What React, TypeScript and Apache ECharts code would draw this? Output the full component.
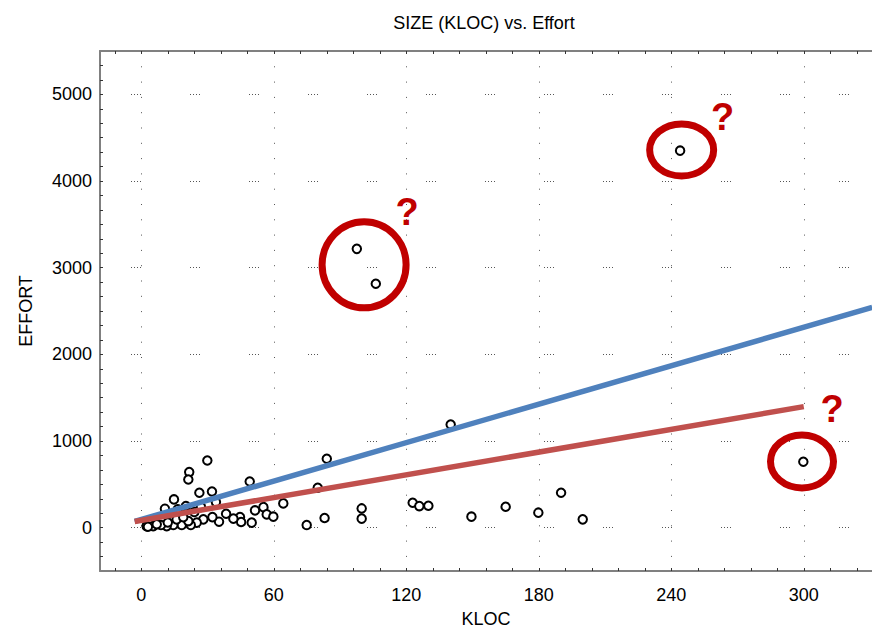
import React, { useEffect, useRef } from "react";
import * as echarts from "echarts";

const kloc = [
  97.6, 106.2, 244, 299.8,
  64.3, 74.9, 79.9, 84, 83, 99.8, 99.8, 122.9, 125.9, 130, 140.1, 149.5, 165, 179.8, 190.1, 199.9,
  29.9, 21.7, 21.3, 14.8, 26.3, 32, 49.1, 33.8, 10.7, 16.5, 20.2, 38.4, 51.5, 55.3, 56.8, 59.8,
  44.7, 45.2, 50, 35.2, 32.2, 41.7, 28.1, 25.1, 22.4, 18.3, 14.5, 11.5, 8.9, 5.4, 2.4, 21.3, 16,
  12, 7, 3, 19, 24, 27,
];
const effort = [
  3217, 2815, 4350, 760,
  280, 30, 461, 795, 111, 222, 104, 288, 249, 253, 1190, 127, 242, 173, 403, 96,
  775, 641, 556, 326, 403, 418, 533, 295, 219, 211, 249, 161, 199, 237, 153, 127,
  122, 65, 58, 69, 122, 104, 96, 58, 30, 30, 30, 18, 30, 18, 18, 76, 96,
  60, 40, 10, 120, 180, 240,
];

const blueFit = [[-3, 72], [331, 2542]];
const redFit = [[-3, 72], [300, 1397]];

const xLabels = [0, 60, 120, 180, 240, 300];
const yLabels = [0, 1000, 2000, 3000, 4000, 5000];
const xMinor = [-12, 0, 12, 24, 36, 48, 60, 72, 84, 96, 108, 120, 132, 144, 156, 168, 180, 192, 204, 216, 228, 240, 252, 264, 276, 288, 300, 312, 324];
const yMinor = [-333.33, -166.67, 0, 166.67, 333.33, 500, 666.67, 833.33, 1000, 1166.67, 1333.33, 1500, 1666.67, 1833.33, 2000, 2166.67, 2333.33, 2500, 2666.67, 2833.33, 3000, 3166.67, 3333.33, 3500, 3666.67, 3833.33, 4000, 4166.67, 4333.33, 4500, 4666.67, 4833.33, 5000, 5166.67, 5333.33];

// annotation centres (data coords)
const marks = [
  { x: 100.9, y: 3033, rx: 42, ry: 43, qx: 43, qy: -53 },
  { x: 244.7, y: 4358, rx: 32, ry: 26, qx: 41, qy: -33 },
  { x: 299.2, y: 764, rx: 31.5, ry: 26.5, qx: 30, qy: -52 },
];

const FONT = "'Liberation Sans', Arial, sans-serif";
const XMIN = -18.7, XMAX = 330.9, YMIN = -500, YMAX = 5500;

export default function App() {
  const ref = useRef<HTMLDivElement>(null);
  useEffect(() => {
    const chart = echarts.init(ref.current!, null, { renderer: "svg" });
    const axisLine = { show: true, onZero: false, lineStyle: { color: "#808080", width: 2 } };
    const tick = { show: true, inside: true, length: 3, lineStyle: { color: "#333", width: 1 } };
    const plain = (v: number) => String(Math.round(v));
    chart.setOption({
      animation: false,
      backgroundColor: "#fff",
      title: {
        text: "SIZE (KLOC) vs. Effort",
        left: 479, top: 9, textAlign: "center",
        textStyle: { fontFamily: FONT, fontSize: 18, fontWeight: "normal", color: "#000" },
      },
      grid: { left: 100, top: 51, right: 0, bottom: 59, outerBoundsMode: "none", containLabel: false },
      xAxis: [
        {
          type: "value", position: "bottom", min: XMIN, max: XMAX,
          axisLine,
          axisTick: { ...tick, customValues: xMinor },
          axisLabel: { customValues: xLabels, formatter: plain, margin: 15, fontFamily: FONT, fontSize: 18, color: "#000" },
          splitLine: { show: false },
          name: "KLOC", nameLocation: "middle", nameGap: 39,
          nameTextStyle: { fontFamily: FONT, fontSize: 18, color: "#000" },
        },
        {
          type: "value", position: "top", min: XMIN, max: XMAX,
          axisLine,
          axisTick: { ...tick, customValues: xMinor },
          axisLabel: { show: false },
          splitLine: { show: false },
        },
        {
          type: "value", position: "bottom", min: XMIN, max: XMAX,
          axisLine: { show: false, onZero: false },
          axisTick: { show: false, customValues: xLabels },
          axisLabel: { show: false },
          splitLine: { show: true, lineStyle: { color: "#555", width: 1, type: [1, 14.3] } },
        },
      ],
      yAxis: [
        {
          type: "value", position: "left", min: YMIN, max: YMAX,
          axisLine,
          axisTick: { ...tick, customValues: yMinor },
          axisLabel: { customValues: yLabels, formatter: plain, margin: 8, fontFamily: FONT, fontSize: 18, color: "#000" },
          splitLine: { show: false },
          name: "EFFORT", nameLocation: "middle", nameGap: 65, nameRotate: 90,
          nameTextStyle: { fontFamily: FONT, fontSize: 18, color: "#000" },
        },
        {
          type: "value", position: "left", min: YMIN, max: YMAX,
          axisLine: { show: false, onZero: false },
          axisTick: { show: false, customValues: yLabels },
          axisLabel: { show: false },
          splitLine: { show: true, lineStyle: { color: "#555", width: 1, type: [1, 2, 1, 2, 1, 2, 1, 49], dashOffset: 28 } },
        },
      ],
      series: [
        {
          type: "scatter", xAxisIndex: 0, yAxisIndex: 0,
          data: kloc.map((k, i) => [k, effort[i]]),
          symbol: "circle", symbolSize: 8.5,
          itemStyle: { color: "#fff", borderColor: "#000", borderWidth: 2, opacity: 1 },
          z: 2,
        },
        {
          type: "line", xAxisIndex: 0, yAxisIndex: 0, data: blueFit, symbol: "none",
          lineStyle: { color: "#4f81bd", width: 5.5 }, z: 3,
        },
        {
          type: "line", xAxisIndex: 0, yAxisIndex: 0, data: redFit, symbol: "none",
          lineStyle: { color: "#c0504d", width: 5.5 }, z: 4,
        },
      ],
    });
    const elems: any[] = [];
    marks.forEach((m) => {
      const p = chart.convertToPixel({ seriesIndex: 0 }, [m.x, m.y]) as number[];
      elems.push({
        type: "ellipse", z: 100,
        shape: { cx: p[0], cy: p[1], rx: m.rx, ry: m.ry },
        style: { fill: "none", stroke: "#c00000", lineWidth: 7 },
      });
      elems.push({
        type: "text", z: 100, x: p[0] + m.qx, y: p[1] + m.qy,
        style: {
          text: "?", fill: "#c00000", fontFamily: FONT, fontSize: 38, fontWeight: "bold",
          align: "center", verticalAlign: "middle",
        },
      });
    });
    chart.setOption({ graphic: elems });
    return () => chart.dispose();
  }, []);
  return <div ref={ref} style={{ width: 872, height: 630, position: "absolute", left: 0, top: 0 }} />;
}
